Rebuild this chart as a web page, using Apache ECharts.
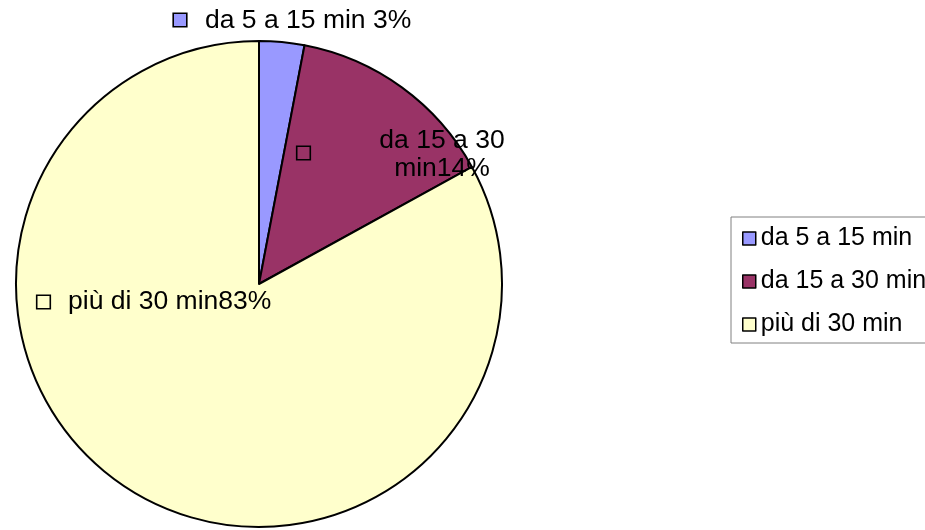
<!DOCTYPE html>
<html>
<head>
<meta charset="utf-8">
<script src="https://cdn.jsdelivr.net/npm/echarts@6/dist/echarts.min.js"></script>
<style>
html,body{margin:0;padding:0;background:#fff;}
#chart{width:925px;height:530px;}
</style>
</head>
<body>
<div id="chart"></div>
<script>
// ---- data ----
var categories = ['da 5 a 15 min', 'da 15 a 30 min', 'più di 30 min'];
var values = [3, 14, 83];
var labelTexts = ['da 5 a 15 min 3%', 'da 15 a 30\nmin14%', 'più di 30 min83%'];
var colors = ['#9999FF', '#993366', '#FFFFCC'];

// ---- label placement (Excel-style manual positions) ----
var textPos = [
  {x: 205, y: 21, align: 'left'},
  {x: 442, y: 155, align: 'center'},
  {x: 68, y: 302, align: 'left'}
];
var boxPos = [
  {x: 180, y: 20},
  {x: 303.5, y: 153},
  {x: 43.5, y: 302}
];

var FONT = '"Liberation Sans", Arial, Helvetica, sans-serif';

var pieData = categories.map(function (c, i) {
  return {name: c, value: values[i], itemStyle: {color: colors[i]}};
});

var boxRich = {};
colors.forEach(function (c, i) {
  boxRich['b' + i] = {width: 12, height: 12, backgroundColor: c, borderColor: '#000', borderWidth: 1.6};
});

var chart = echarts.init(document.getElementById('chart'), null, {renderer: 'canvas'});
chart.setOption({
  animation: false,
  backgroundColor: '#fff',
  legend: {
    orient: 'vertical',
    left: 731,
    top: 217,
    padding: [9, 30, 6, 11],
    itemGap: 18,
    itemWidth: 13,
    itemHeight: 13,
    icon: 'rect',
    borderColor: '#808080',
    borderWidth: 1,
    data: categories,
    itemStyle: {borderColor: '#000', borderWidth: 1.5},
    textStyle: {fontFamily: FONT, fontSize: 25, color: '#000', lineHeight: 24}
  },
  series: [
    {
      type: 'pie',
      center: [259, 284],
      radius: 243,
      startAngle: 90,
      clockwise: true,
      data: pieData,
      itemStyle: {borderColor: '#000', borderWidth: 2},
      emphasis: {disabled: true},
      labelLine: {show: false},
      label: {
        show: true,
        position: 'inside',
        overflow: 'none',
        formatter: function (p) { return labelTexts[p.dataIndex]; },
        fontFamily: FONT,
        fontSize: 26.5,
        lineHeight: 28,
        color: '#000'
      },
      labelLayout: function (p) {
        var t = textPos[p.dataIndex];
        return {x: t.x, y: t.y, align: t.align, verticalAlign: 'middle', hideOverlap: false, moveOverlap: false};
      }
    },
    {
      type: 'pie',
      center: [259, 284],
      radius: 243,
      startAngle: 90,
      clockwise: true,
      silent: true,
      data: pieData.map(function (d) { return {name: d.name, value: d.value, itemStyle: {color: 'rgba(0,0,0,0)'}}; }),
      itemStyle: {borderWidth: 0},
      emphasis: {disabled: true},
      labelLine: {show: false},
      label: {
        show: true,
        position: 'inside',
        formatter: function (p) { return '{b' + p.dataIndex + '|}'; },
        rich: boxRich
      },
      labelLayout: function (p) {
        var b = boxPos[p.dataIndex];
        return {x: b.x, y: b.y, align: 'center', verticalAlign: 'middle'};
      }
    }
  ]
});
</script>
</body>
</html>
